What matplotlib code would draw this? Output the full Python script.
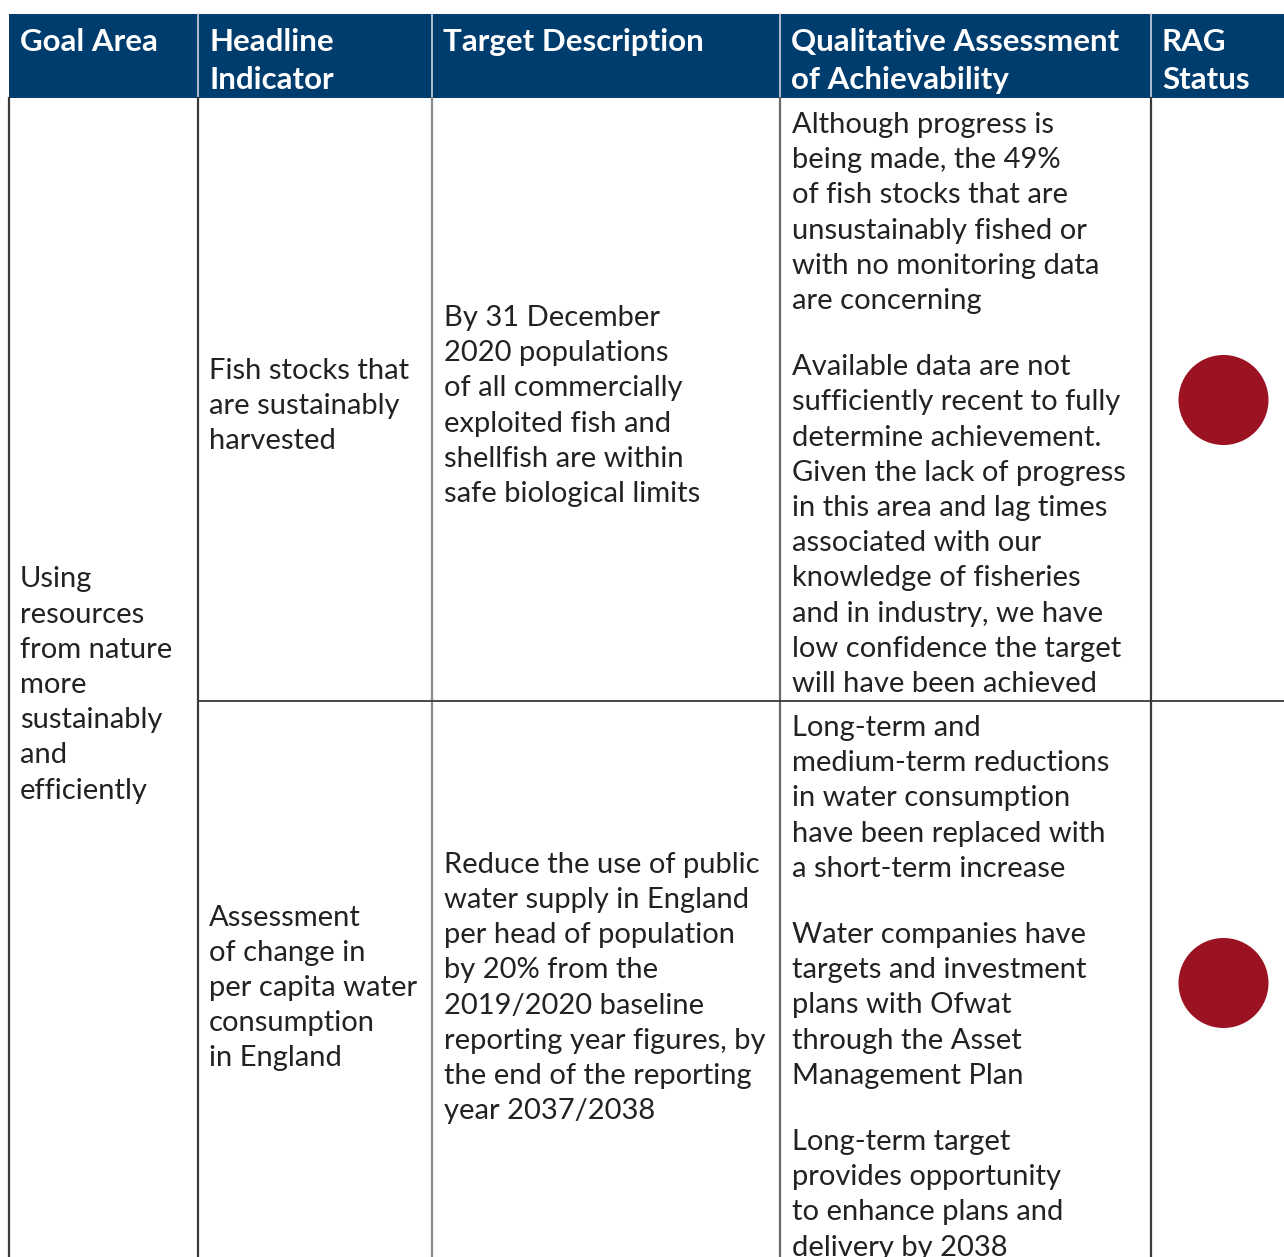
import matplotlib.pyplot as plt
from matplotlib.patches import Rectangle, Circle

# table content
headers = ["Goal Area", "Headline\nIndicator", "Target Description",
           "Qualitative Assessment\nof Achievability", "RAG\nStatus"]
goal_area = "Using\nresources\nfrom nature\nmore\nsustainably\nand\nefficiently"
indicators = ["Fish stocks that\nare sustainably\nharvested",
              "Assessment\nof change in\nper capita water\nconsumption\nin England"]
targets = ["By 31 December\n2020 populations\nof all commercially\nexploited fish and\nshellfish are within\nsafe biological limits",
           "Reduce the use of public\nwater supply in England\nper head of population\nby 20% from the\n2019/2020 baseline\nreporting year figures, by\nthe end of the reporting\nyear 2037/2038"]
assessments = [
    ["Although progress is\nbeing made, the 49%\nof fish stocks that are\nunsustainably fished or\nwith no monitoring data\nare concerning",
     "Available data are not\nsufficiently recent to fully\ndetermine achievement.\nGiven the lack of progress\nin this area and lag times\nassociated with our\nknowledge of fisheries\nand in industry, we have\nlow confidence the target\nwill have been achieved"],
    ["Long-term and\nmedium-term reductions\nin water consumption\nhave been replaced with\na short-term increase",
     "Water companies have\ntargets and investment\nplans with Ofwat\nthrough the Asset\nManagement Plan",
     "Long-term target\nprovides opportunity\nto enhance plans and\ndelivery by 2038"],
]
rag_status = ["Red", "Red"]

rag_colors = {"Red": "#9b1322", "Amber": "#f0a030", "Green": "#3a8a3a"}
navy = "#003d6f"
font = "Lato"
fs = 21
line_h = 35.2
para_gap = 31

# layout in pixels
col_x = [9, 198, 432, 780, 1151, 1284]
head_top, head_bot = 14, 98
row_top = [98, 701]
row_mid = [403, 985]
dot_mid = [400, 983]

fig = plt.figure(figsize=(12.84, 12.57), dpi=100)
ax = fig.add_axes([0, 0, 1, 1])
ax.set_xlim(0, 1284)
ax.set_ylim(1257, 0)
ax.axis("off")

# header
ax.add_patch(Rectangle((col_x[0], head_top), col_x[-1] - col_x[0], head_bot - head_top,
                       facecolor=navy, edgecolor="none"))
for x in col_x[1:-1]:
    ax.plot([x, x], [head_top, head_bot], color="#c9d3de", lw=1.2)
for i, h in enumerate(headers):
    for j, line in enumerate(h.split("\n")):
        ax.text(col_x[i] + 11, 42 + j * 38, line, color="white", fontsize=22.5,
                fontweight="bold", family=font, va="center", ha="left")

# grid lines
line_cols = ["#3a3a3a", "#3a3a3a", "#8a8a8a", "#6a6a6a", "#3a3a3a"]
for x, c in zip(col_x[:-1], line_cols):
    ax.plot([x, x], [head_bot, 1257], color=c, lw=1.6)
ax.plot([col_x[1], col_x[-1]], [row_top[1], row_top[1]], color="#3a3a3a", lw=1.3)


def draw_block(x, y_first, text):
    lines = text.split("\n")
    for k, line in enumerate(lines):
        ax.text(x, y_first + 3 + k * line_h, line, fontsize=fs, family=font,
                color="#222222", va="center", ha="left")
    return y_first + len(lines) * line_h


def draw_centered(x, y_mid, text):
    n = len(text.split("\n"))
    draw_block(x, y_mid - (n - 1) * line_h / 2, text)


# goal area spans both rows
draw_centered(col_x[0] + 11, 682, goal_area)

for r in range(2):
    draw_centered(col_x[1] + 11, row_mid[r], indicators[r])
    draw_centered(col_x[2] + 12, row_mid[r], targets[r])
    y = row_top[r] + 24
    for p in assessments[r]:
        y = draw_block(col_x[3] + 12, y, p) + para_gap
    ax.add_patch(Circle(((col_x[4] + col_x[5]) / 2 + 6, dot_mid[r]), 45,
                        facecolor=rag_colors[rag_status[r]], edgecolor="none"))

fig.savefig("out.png", dpi=100)
